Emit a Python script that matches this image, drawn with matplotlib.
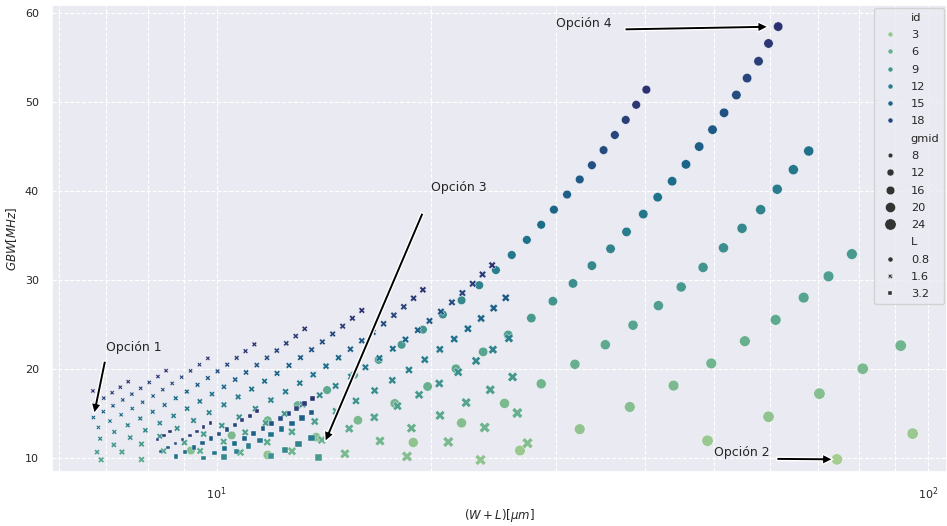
import matplotlib
matplotlib.use("Agg")
import matplotlib.pyplot as plt
import pandas as pd
import seaborn as sns

# drain current sweep (uA); every line below starts at one of these ids and walks down
id_vals = [2.0, 2.67, 3.33, 4.0, 4.67, 5.33, 6.0, 6.67, 7.33, 8.0, 8.67, 9.33,
           10.0, 10.67, 11.33, 12.0, 12.67, 13.33, 14.0, 14.67, 15.33, 16.0,
           16.67, 17.33, 18.0, 18.67, 19.33, 20.0]

# L = 0.8 um (circles), top point first
c16_x = [40.2, 38.9, 37.6, 36.3, 35.0, 33.7, 32.4, 31.1, 29.8, 28.6, 27.3, 26.0, 24.7,
         23.4, 22.1, 20.8, 19.5, 18.2, 16.9, 15.6, 14.3, 13.0, 11.8, 10.5, 9.2]
c16_y = [51.4, 49.7, 48.0, 46.3, 44.6, 42.9, 41.3, 39.6, 37.9, 36.2, 34.5, 32.8, 31.1,
         29.4, 27.7, 26.1, 24.4, 22.7, 21.0, 19.3, 17.6, 15.9, 14.2, 12.5, 10.8]
c18_x = [61.6, 59.7, 57.8, 55.7, 53.8, 51.7, 49.8, 47.7, 45.7, 43.7, 41.7, 39.8, 37.7,
         35.8, 33.7, 31.7, 29.7, 27.7, 25.7, 23.7, 21.7, 19.8, 17.8, 15.8, 13.8, 11.8]
c18_y = [58.5, 56.6, 54.6, 52.7, 50.8, 48.8, 46.9, 45.0, 43.0, 41.1, 39.3, 37.4, 35.4,
         33.5, 31.6, 29.6, 27.6, 25.7, 23.8, 21.9, 20.0, 18.0, 16.1, 14.2, 12.3, 10.3]
c20_x = [68.0, 64.7, 61.4, 58.2, 54.8, 51.6, 48.3, 45.0, 41.8, 38.5, 35.2, 31.9, 28.6,
         25.4, 22.1, 18.9]
c20_y = [44.5, 42.4, 40.2, 37.9, 35.8, 33.6, 31.4, 29.2, 27.1, 24.9, 22.7, 20.5, 18.3,
         16.1, 13.9, 11.7]
c22_x = [78.2, 72.5, 66.9, 61.1, 55.3, 49.6, 43.9, 38.1, 32.4, 26.7]
c22_y = [32.9, 30.4, 28.0, 25.5, 23.1, 20.6, 18.1, 15.7, 13.2, 10.8]
c24_x = [91.6, 81.0, 70.4, 59.7, 49.0]
c24_y = [22.6, 20.0, 17.2, 14.6, 11.9]
c26_x = [95.2, 74.5]
c26_y = [12.7, 9.8]

# L = 1.6 um (crosses)
x05_x = [6.70]
x05_y = [17.5]
x06_x = [7.51, 7.32, 7.13, 6.94, 6.75]
x06_y = [18.54, 17.92, 17.30, 16.69, 16.07]
x07_x = [8.49, 8.27, 8.04, 7.82, 7.60, 7.38, 7.15, 6.93, 6.71]
x07_y = [19.78, 19.12, 18.46, 17.80, 17.14, 16.49, 15.83, 15.17, 14.51]
x08_x = [9.72, 9.46, 9.19, 8.93, 8.66, 8.40, 8.14, 7.87, 7.61, 7.34, 7.08, 6.82]
x08_y = [21.17, 20.46, 19.76, 19.05, 18.35, 17.64, 16.93, 16.23, 15.52, 14.82, 14.11, 13.40]
x09_x = [11.30, 10.98, 10.67, 10.35, 10.03, 9.72, 9.40, 9.08, 8.76, 8.45, 8.13, 7.81,
         7.50, 7.18, 6.86]
x09_y = [22.74, 21.98, 21.22, 20.46, 19.71, 18.95, 18.19, 17.43, 16.68, 15.92, 15.16,
         14.40, 13.64, 12.89, 12.13]
x10_x = [13.30, 12.92, 12.53, 12.15, 11.77, 11.39, 11.00, 10.62, 10.24, 9.85, 9.47, 9.09,
         8.70, 8.32, 7.94, 7.56, 7.17, 6.79]
x10_y = [24.49, 23.67, 22.86, 22.04, 21.23, 20.41, 19.59, 18.78, 17.96, 17.15, 16.33,
         15.51, 14.70, 13.88, 13.07, 12.25, 11.43, 10.62]
x11_x = [16.00, 15.52, 15.04, 14.56, 14.08, 13.60, 13.12, 12.64, 12.16, 11.68, 11.20,
         10.72, 10.24, 9.76, 9.28, 8.80, 8.32, 7.84, 7.36, 6.88]
x11_y = [26.56, 25.68, 24.79, 23.91, 23.02, 22.14, 21.25, 20.37, 19.48, 18.60, 17.71,
         16.83, 15.94, 15.06, 14.17, 13.29, 12.40, 11.52, 10.63, 9.75]
x12_x = [19.50, 18.92, 18.33, 17.75, 17.17, 16.59, 16.00, 15.42, 14.84, 14.25, 13.67,
         13.09, 12.50, 11.92, 11.34, 10.76, 10.17, 9.59, 9.01, 8.42, 7.84]
x12_y = [28.88, 27.93, 26.97, 26.02, 25.06, 24.11, 23.15, 22.20, 21.24, 20.29, 19.33,
         18.38, 17.42, 16.47, 15.51, 14.56, 13.60, 12.65, 11.69, 10.74, 9.78]
x13_x = [24.40, 23.65, 22.91, 22.16, 21.42, 20.67, 19.92, 19.18, 18.43, 17.69, 16.94,
         16.19, 15.45, 14.70, 13.96, 13.21, 12.46, 11.72, 10.97, 10.23, 9.48]
x13_y = [31.65, 30.61, 29.56, 28.52, 27.47, 26.43, 25.38, 24.34, 23.29, 22.25, 21.20,
         20.16, 19.11, 18.07, 17.02, 15.98, 14.93, 13.89, 12.84, 11.80, 10.75]
x15_x = [25.50, 24.52, 23.54, 22.56, 21.58, 20.60, 19.62, 18.64, 17.66, 16.68, 15.70,
         14.72, 13.74, 12.76, 11.78, 10.80]
x15_y = [27.98, 26.82, 25.66, 24.50, 23.34, 22.18, 21.02, 19.86, 18.70, 17.54, 16.38,
         15.22, 14.06, 12.90, 11.74, 10.58]
x17_x = [25.76, 24.46, 23.16, 21.86, 20.56, 19.26, 17.96, 16.66, 15.36, 14.06, 12.76]
x17_y = [23.42, 22.15, 20.88, 19.61, 18.34, 17.07, 15.80, 14.53, 13.26, 11.99, 10.72]
x20_x = [26.07, 24.25, 22.43, 20.61, 18.79, 16.97, 15.15]
x20_y = [19.07, 17.63, 16.19, 14.75, 13.31, 11.87, 10.43]
x23_x = [26.47, 23.82, 21.17, 18.52]
x23_y = [15.02, 13.39, 11.76, 10.13]
x26_x = [27.36, 23.50]
x26_y = [11.62, 9.74]

# L = 3.2 um (squares)
s07_x = [8.60, 8.43, 8.26]
s07_y = [12.90, 12.47, 12.04]
s08_x = [9.80, 9.59, 9.38, 9.17, 8.96, 8.75, 8.54, 8.33]
s08_y = [13.90, 13.44, 12.97, 12.51, 12.05, 11.58, 11.12, 10.66]
s10_x = [11.40, 11.14, 10.87, 10.61, 10.34, 10.08, 9.82, 9.55, 9.29, 9.02, 8.76]
s10_y = [15.20, 14.69, 14.19, 13.68, 13.17, 12.67, 12.16, 11.65, 11.14, 10.64, 10.13]
s12_x = [13.65, 13.31, 12.97, 12.64, 12.30, 11.96, 11.62, 11.28, 10.95, 10.61, 10.27,
         9.93, 9.59]
s12_y = [16.60, 16.05, 15.49, 14.94, 14.39, 13.84, 13.28, 12.73, 12.18, 11.62, 11.07,
         10.52, 9.96]
s14_x = [13.60, 13.18, 12.76, 12.34, 11.92, 11.50, 11.08, 10.66, 10.24]
s14_y = [15.10, 14.47, 13.84, 13.21, 12.58, 11.95, 11.32, 10.69, 10.06]
s17_x = [13.60, 13.04, 12.48, 11.92]
s17_y = [12.20, 11.52, 10.84, 10.17]
s20_x = [13.90]
s20_y = [10.00]

# (L, gmid, index of the top id, W+L list, GBW list)
series = [
    (0.8, 16, 27, c16_x, c16_y), (0.8, 18, 27, c18_x, c18_y),
    (0.8, 20, 17, c20_x, c20_y), (0.8, 22, 10, c22_x, c22_y),
    (0.8, 24, 5, c24_x, c24_y), (0.8, 26, 1, c26_x, c26_y),
    (1.6, 5, 27, x05_x, x05_y), (1.6, 6, 27, x06_x, x06_y),
    (1.6, 7, 27, x07_x, x07_y), (1.6, 8, 27, x08_x, x08_y),
    (1.6, 9, 27, x09_x, x09_y), (1.6, 10, 27, x10_x, x10_y),
    (1.6, 11, 27, x11_x, x11_y), (1.6, 12, 27, x12_x, x12_y),
    (1.6, 13, 27, x13_x, x13_y), (1.6, 15, 21, x15_x, x15_y),
    (1.6, 17.5, 15, x17_x, x17_y), (1.6, 20, 10, x20_x, x20_y),
    (1.6, 23, 6, x23_x, x23_y), (1.6, 26, 3, x26_x, x26_y),
    (3.2, 7, 27, s07_x, s07_y), (3.2, 8, 27, s08_x, s08_y),
    (3.2, 10, 27, s10_x, s10_y), (3.2, 12, 27, s12_x, s12_y),
    (3.2, 14, 21, s14_x, s14_y), (3.2, 17, 15, s17_x, s17_y),
    (3.2, 20, 10, s20_x, s20_y),
]

rows = []
for L, gmid, top, xs, ys in series:
    for i, (x, y) in enumerate(zip(xs, ys)):
        rows.append({"WL": x, "GBW": y, "id": id_vals[top - i], "gmid": gmid, "L": L})
df = pd.DataFrame(rows)

sns.set_theme(style="darkgrid")
plt.rcParams.update({
    "xtick.labelsize": 8, "ytick.labelsize": 8, "axes.labelsize": 8.5,
    "legend.fontsize": 8.2, "legend.title_fontsize": 8.2,
})

fig, ax = plt.subplots(figsize=(9.47, 5.26), dpi=100)
fig.subplots_adjust(left=0.055, right=1.0, top=0.99, bottom=0.103)

sns.scatterplot(data=df, x="WL", y="GBW", hue="id", size="gmid", style="L",
                palette="crest", sizes=(11.4, 66), size_norm=(8, 24), ax=ax)
ax.set_xscale("log")
ax.set_xlim(5.87, 106.4)
ax.set_ylim(8.4, 60.9)
ax.grid(True, which="both", linestyle="--", color="white", linewidth=0.8)
ax.set_xlabel(r"$(W + L)[\mu m]$")
ax.set_ylabel(r"$GBW[MHz]$")

arrow = dict(facecolor="black", shrink=0.06, width=2.4, headwidth=7.5, headlength=7.5)
ax.annotate("Opción 1", xy=(6.71, 14.51), xytext=(7.0, 22.0), arrowprops=arrow, fontsize=9)
ax.annotate("Opción 2", xy=(74.5, 9.8), xytext=(50.0, 10.2), arrowprops=arrow, fontsize=9)
ax.annotate("Opción 3", xy=(13.9, 10.0), xytext=(20.0, 40.0), arrowprops=arrow, fontsize=9)
ax.annotate("Opción 4", xy=(61.6, 58.5), xytext=(30.0, 58.5), arrowprops=arrow, fontsize=9)

sns.move_legend(ax, "upper right", borderaxespad=0.25, labelspacing=0.64)
leg = ax.get_legend()
for i, h in enumerate(leg.legend_handles):
    # hue and style entries are drawn small in the reference
    if 1 <= i <= 6 or i >= 14:
        h.set_markersize(3.6)

fig.savefig("out.png", dpi=100)
